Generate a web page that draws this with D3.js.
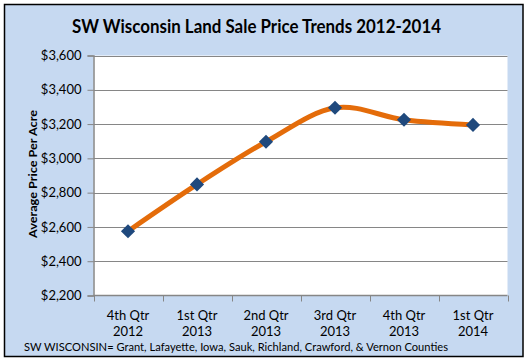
<!DOCTYPE html>
<html><head><meta charset="utf-8">
<script src="https://cdn.jsdelivr.net/npm/d3@7"></script>
<style>body{margin:0;background:#fff}svg{display:block}text{font-family:Lato,"Open Sans",sans-serif;fill:#000}</style>
</head><body>
<svg id="c" width="528" height="363"></svg>
<script>
const categories = [["4th Qtr","2012"],["1st Qtr","2013"],["2nd Qtr","2013"],["3rd Qtr","2013"],["4th Qtr","2013"],["1st Qtr","2014"]];
const values = [2575, 2848, 3097, 3295, 3225, 3195];
const yTicks = [2200,2400,2600,2800,3000,3200,3400,3600];
const title = "SW Wisconsin Land Sale Price Trends 2012-2014";
const yLabel = "Average Price  Per Acre";
const footnote = "SW WISCONSIN= Grant, Lafayette, Iowa, Sauk, Richland, Crawford, & Vernon Counties";

const svg = d3.select("#c");
svg.append("rect").attr("x",4.5).attr("y",4.5).attr("width",518.5).attr("height",352)
  .attr("fill","#C6D9F1").attr("stroke","#000").attr("stroke-width",1.5);

const L=93.5, R=507.5, T=55.5, B=295.5;
svg.append("rect").attr("x",L).attr("y",T).attr("width",R-L).attr("height",B-T).attr("fill","#fff");

const x = d3.scaleBand().domain(d3.range(categories.length)).range([L,R]);
const y = d3.scaleLinear().domain([2200,3600]).range([B,T]);

// gridlines
svg.append("g").selectAll("line").data(yTicks.slice(1)).join("line")
  .attr("x1",L).attr("x2",R).attr("y1",d=>Math.round(y(d))+0.5).attr("y2",d=>Math.round(y(d))+0.5)
  .attr("stroke","#868686").attr("stroke-width",1);

// y axis
const ya = svg.append("g").attr("transform",`translate(${L},0)`)
  .call(d3.axisLeft(y).tickValues(yTicks).tickSize(6).tickPadding(6).tickFormat(d=>"$"+d3.format(",")(d)));
ya.select(".domain").attr("stroke","#868686").attr("stroke-width",1.5);
ya.selectAll(".tick line").attr("stroke","#868686");
ya.selectAll(".tick text").style("font-size","13px").style("font-family","Lato,sans-serif").attr("fill","#000");

// x axis
const xa = svg.append("g").attr("transform",`translate(0,${B})`);
xa.append("line").attr("x1",L).attr("x2",R).attr("y1",0).attr("y2",0).attr("stroke","#868686").attr("stroke-width",1.5);
const edges = d3.range(categories.length+1).map(i=> i<categories.length ? x(i) : x(i-1)+x.bandwidth());
xa.selectAll("line.t").data(edges).join("line").attr("class","t")
  .attr("x1",d=>Math.round(d)+0.5).attr("x2",d=>Math.round(d)+0.5).attr("y1",0).attr("y2",6).attr("stroke","#868686");
const xl = xa.selectAll("text.c").data(categories).join("text").attr("class","c")
  .attr("text-anchor","middle").style("font-size","13px");
xl.append("tspan").attr("x",(d,i)=>x(i)+x.bandwidth()/2).attr("y",24).text(d=>d[0]);
xl.append("tspan").attr("x",(d,i)=>x(i)+x.bandwidth()/2).attr("y",40).text(d=>d[1]);

// title
svg.append("text").attr("x",256.5).attr("y",33).attr("text-anchor","middle")
  .style("font-size","18px").style("font-weight","bold").attr("textLength",369).attr("lengthAdjust","spacingAndGlyphs").text(title);

// y label
svg.append("text").attr("transform","translate(37,174) rotate(-90)").attr("text-anchor","middle")
  .style("font-size","11.5px").style("font-weight","bold").attr("textLength",128).attr("lengthAdjust","spacingAndGlyphs").text(yLabel);

// footnote
svg.append("text").attr("x",24).attr("y",351).style("font-size","11.5px")
  .attr("textLength",424).attr("lengthAdjust","spacingAndGlyphs").text(footnote);

// line
const line = d3.line().x((d,i)=>x(i)+x.bandwidth()/2).y(d=>y(d)).curve(d3.curveCardinal.tension(0));
svg.append("path").datum(values).attr("d",line).attr("fill","none").attr("stroke","#E46C0A").attr("stroke-width",5).attr("stroke-linecap","round");

// markers
svg.append("g").selectAll("path").data(values).join("path")
  .attr("d",d3.symbol(d3.symbolSquare,100)()).attr("transform",(d,i)=>`translate(${x(i)+x.bandwidth()/2},${y(d)}) rotate(45)`)
  .attr("fill","#1F497D");
</script>
</body></html>
